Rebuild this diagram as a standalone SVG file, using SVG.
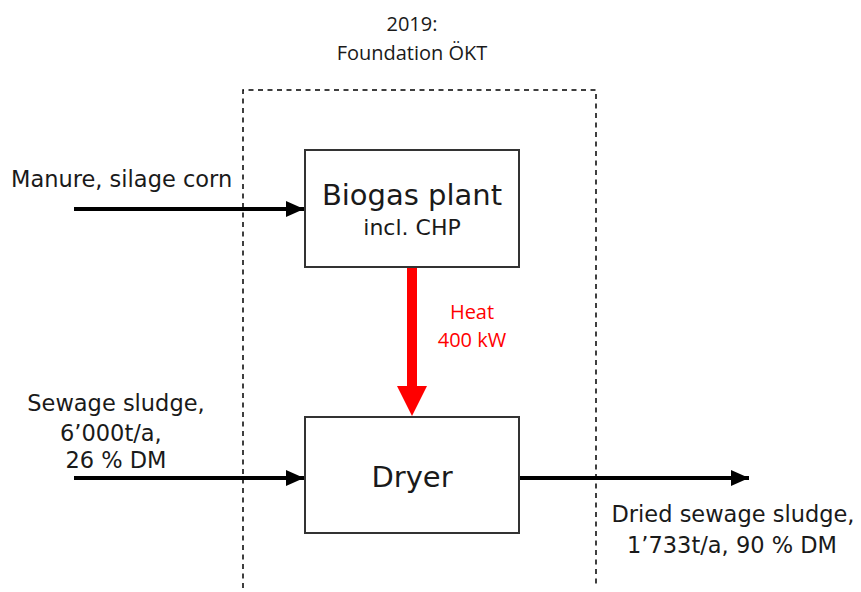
<svg xmlns="http://www.w3.org/2000/svg" width="861" height="592" viewBox="0 0 861 592">
<style>
.lbl{font-family:"DejaVu Sans",Verdana,sans-serif;font-size:22.5px;fill:#1a1a1a}
.sub{font-family:"DejaVu Sans",Verdana,sans-serif;font-size:22px;fill:#1a1a1a}
.big{font-family:"DejaVu Sans",Verdana,sans-serif;font-size:29px;fill:#1a1a1a}
.cal{font-family:"Open Sans","Liberation Sans",sans-serif;font-size:20px}
.box{fill:#fff;stroke:#333;stroke-width:2}
.flow{stroke:#000;stroke-width:4;fill:none;marker-end:url(#ah)}
</style>
<defs>
<marker id="ah" markerUnits="userSpaceOnUse" markerWidth="18" markerHeight="16" refX="18" refY="8" orient="auto">
<path d="M0,0 L18,8 L0,16 Z" fill="#000"/>
</marker>
</defs>
<rect width="861" height="592" fill="#fff"/>
<g id="boundary">
<path d="M243,588 V90 H596 V588" fill="none" stroke="#000" stroke-width="1.5" stroke-dasharray="5,4.5"/>
<text class="cal" x="412" y="31" text-anchor="middle" fill="#1a1a1a">2019:</text>
<text class="cal" x="412" y="60" text-anchor="middle" fill="#1a1a1a">Foundation ÖKT</text>
</g>
<g id="connectors">
<line class="flow" x1="74" y1="209" x2="304" y2="209"/>
<line class="flow" x1="74" y1="478" x2="304" y2="478"/>
<line class="flow" x1="519" y1="478" x2="749" y2="478"/>
<path d="M407,267 H417 V386 H427 L412,416 L397,386 H407 Z" fill="#f00"/>
</g>
<g id="biogas">
<rect class="box" x="305" y="150" width="214" height="117"/>
<text class="big" x="412" y="205" text-anchor="middle">Biogas plant</text>
<text class="sub" x="412" y="235" text-anchor="middle">incl. CHP</text>
</g>
<g id="dryer">
<rect class="box" x="305" y="417" width="214" height="116"/>
<text class="big" x="412" y="487" text-anchor="middle">Dryer</text>
</g>
<g id="labels">
<text class="lbl" x="11" y="187">Manure, silage corn</text>
<text class="lbl" x="116" y="411" text-anchor="middle">Sewage sludge,</text>
<text class="lbl" x="60" y="441">6’000t/a,</text>
<text class="lbl" x="116" y="468" text-anchor="middle">26 % DM</text>
<text class="lbl" x="733" y="522" text-anchor="middle">Dried sewage sludge,</text>
<text class="lbl" x="732" y="553" text-anchor="middle">1’733t/a, 90 % DM</text>
<text class="cal" x="472" y="319" text-anchor="middle" fill="#f00">Heat</text>
<text class="cal" x="472" y="347" text-anchor="middle" fill="#f00">400 kW</text>
</g>
</svg>
